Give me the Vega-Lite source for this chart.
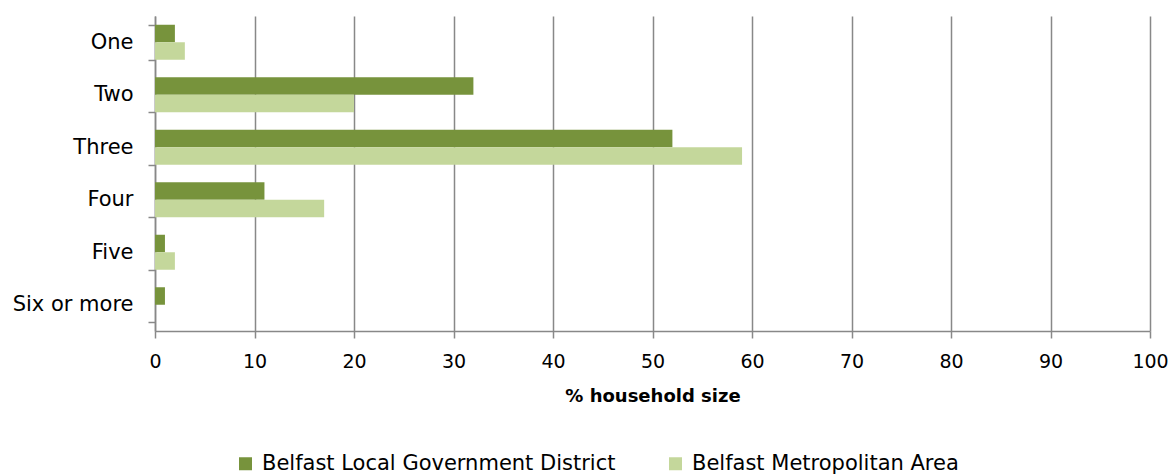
{
  "$schema": "https://vega.github.io/schema/vega-lite/v6.json",
  "width": 995,
  "height": 315,
  "autosize": {"type": "none"},
  "padding": {"left": 155, "top": 16, "right": 20, "bottom": 144},
  "background": "white",
  "config": {"view": {"stroke": null}, "font": "DejaVu Sans"},
  "data": {
    "values": [
      {"size": "One", "area": "Belfast Local Government District", "pct": 2},
      {"size": "One", "area": "Belfast Metropolitan Area", "pct": 3},
      {"size": "Two", "area": "Belfast Local Government District", "pct": 32},
      {"size": "Two", "area": "Belfast Metropolitan Area", "pct": 20},
      {"size": "Three", "area": "Belfast Local Government District", "pct": 52},
      {"size": "Three", "area": "Belfast Metropolitan Area", "pct": 59},
      {"size": "Four", "area": "Belfast Local Government District", "pct": 11},
      {"size": "Four", "area": "Belfast Metropolitan Area", "pct": 17},
      {"size": "Five", "area": "Belfast Local Government District", "pct": 1},
      {"size": "Five", "area": "Belfast Metropolitan Area", "pct": 2},
      {"size": "Six or more", "area": "Belfast Local Government District", "pct": 1},
      {"size": "Six or more", "area": "Belfast Metropolitan Area", "pct": 0}
    ]
  },
  "mark": {"type": "bar"},
  "encoding": {
    "y": {
      "field": "size",
      "type": "nominal",
      "sort": ["One", "Two", "Three", "Four", "Five", "Six or more"],
      "scale": {"paddingInner": 0.3333, "paddingOuter": 0.1667},
      "axis": {
        "title": null,
        "tickBand": "extent",
        "labelFontSize": 21,
        "labelPadding": 15,
        "labelColor": "#000000",
        "tickSize": 7,
        "tickWidth": 1.5,
        "domainWidth": 1.5,
        "domainColor": "#888888",
        "tickColor": "#888888",
        "grid": false
      }
    },
    "yOffset": {
      "field": "area",
      "type": "nominal",
      "sort": ["Belfast Local Government District", "Belfast Metropolitan Area"]
    },
    "x": {
      "field": "pct",
      "type": "quantitative",
      "scale": {"domain": [0, 100], "nice": false},
      "axis": {
        "values": [0, 10, 20, 30, 40, 50, 60, 70, 80, 90, 100],
        "labelFlush": false,
        "title": "% household size",
        "titleFontWeight": "bold",
        "titleFontSize": 18,
        "titleColor": "#000000",
        "titlePadding": 16,
        "labelFontSize": 19,
        "labelColor": "#000000",
        "labelPadding": 14,
        "tickSize": 7,
        "tickWidth": 1.5,
        "domainWidth": 1.5,
        "gridWidth": 1.5,
        "gridColor": "#888888",
        "domainColor": "#888888",
        "tickColor": "#888888"
      }
    },
    "color": {
      "field": "area",
      "type": "nominal",
      "scale": {
        "domain": ["Belfast Local Government District", "Belfast Metropolitan Area"],
        "range": ["#77933C", "#C4D79B"]
      },
      "legend": {
        "title": null,
        "orient": "none",
        "direction": "horizontal",
        "legendX": 80,
        "legendY": 437,
        "padding": 0,
        "symbolType": "square",
        "symbolSize": 169,
        "symbolStrokeWidth": 0,
        "symbolOpacity": 1,
        "labelFontSize": 21,
        "labelColor": "#000000",
        "labelOffset": 6,
        "columnPadding": 49,
        "labelLimit": 600
      }
    }
  }
}
